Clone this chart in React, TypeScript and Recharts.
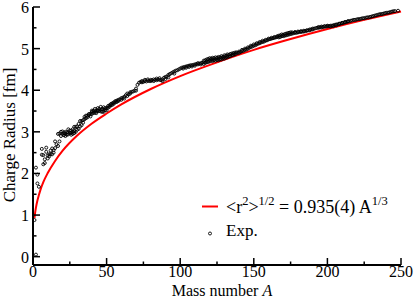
import { ComposedChart, Line, Scatter, XAxis, YAxis } from "recharts";

// fit curve <r^2>^1/2 = 0.935 A^1/3
const fitMass = [1, 1.5, 2, 3, 4, 5, 7, 10, 15, 20, 30, 40, 50, 60, 80, 100, 125, 150, 175, 200, 225, 250];
const fitRadius = [0.935, 1.07, 1.18, 1.35, 1.48, 1.6, 1.79, 2.01, 2.3, 2.54, 2.91, 3.2, 3.44, 3.66, 4.03, 4.34, 4.67, 4.97, 5.23, 5.47, 5.69, 5.89];

// experimental charge radii [A, r], read from the open circles
const expLight: [number, number][] = [
  [1, 0.88], [2, 0.05], [2, 2.14], [3, 1.76], [3, 1.97], [4, 1.68], [6, 2.59], [6, 2.45],
  [7, 2.44], [7, 2.22], [8, 2.34], [8, 2.25], [9, 2.52], [9, 2.62], [10, 2.43], [10, 2.36],
  [11, 2.46], [11, 2.41], [12, 2.47], [12, 2.55], [13, 2.46], [13, 2.6], [14, 2.5], [14, 2.56],
  [15, 2.61], [15, 2.77], [16, 2.7], [17, 2.66], [17, 2.95], [18, 2.77], [18, 2.96], [19, 2.9],
  [19, 3.0], [20, 3.01], [20, 2.95], [21, 2.97], [21, 2.92], [22, 2.95], [22, 2.9], [22, 3.0],
  [23, 2.99], [23, 2.93], [24, 3.06], [24, 2.98], [24, 2.94], [25, 3.03], [25, 2.97], [26, 3.03],
  [26, 2.98], [26, 2.93], [27, 3.06], [27, 3.0], [27, 2.95], [28, 3.12], [28, 3.02], [28, 2.97],
  [29, 3.12], [29, 3.0], [30, 3.13], [30, 3.05], [31, 3.07], [31, 3.19], [32, 3.26], [32, 3.13],
  [33, 3.26], [33, 3.16], [34, 3.28], [34, 3.22], [35, 3.36], [35, 3.3], [36, 3.39], [36, 3.33],
  [37, 3.39], [37, 3.35], [38, 3.4], [38, 3.43], [39, 3.43], [39, 3.37],
];

const expMedium: [number, number][] = [
  [40, 3.48], [40, 3.43], [40, 3.51], [41, 3.45], [41, 3.5], [42, 3.51], [42, 3.46], [42, 3.55],
  [43, 3.49], [43, 3.45], [44, 3.52], [44, 3.5], [44, 3.57], [45, 3.5], [45, 3.55], [46, 3.49],
  [46, 3.53], [46, 3.6], [47, 3.48], [47, 3.55], [48, 3.48], [48, 3.54], [48, 3.59], [49, 3.52],
  [49, 3.57], [50, 3.57], [50, 3.52], [51, 3.58], [51, 3.62], [52, 3.64], [52, 3.6], [53, 3.64],
  [53, 3.67], [54, 3.69], [54, 3.65], [55, 3.71], [55, 3.68], [56, 3.74], [56, 3.71], [57, 3.75],
  [57, 3.72], [58, 3.77], [58, 3.74], [59, 3.78], [60, 3.81], [60, 3.77], [61, 3.82], [62, 3.84],
  [62, 3.8], [63, 3.88], [64, 3.86], [64, 3.92], [65, 3.9], [66, 3.95], [66, 3.92], [67, 3.96],
  [68, 3.97], [69, 3.99], [70, 4.04], [70, 3.99], [71, 4.13], [72, 4.18], [73, 4.2], [74, 4.22],
  [74, 4.19], [75, 4.2], [76, 4.22], [76, 4.25], [77, 4.21], [78, 4.23], [78, 4.26], [79, 4.22],
  [80, 4.25], [80, 4.22], [81, 4.24], [82, 4.26], [82, 4.22], [83, 4.25], [84, 4.28], [84, 4.24],
  [85, 4.26], [86, 4.25], [86, 4.29], [87, 4.24], [88, 4.26], [88, 4.22], [89, 4.3], [90, 4.27],
  [90, 4.32], [91, 4.33], [92, 4.37], [92, 4.31], [93, 4.39], [94, 4.41], [95, 4.43], [96, 4.45],
  [96, 4.4], [97, 4.47], [98, 4.48], [99, 4.5], [100, 4.52],
];

const expHeavy: [number, number][] = [
  [101, 4.54], [102, 4.55], [102, 4.52], [103, 4.56], [104, 4.57], [104, 4.54], [105, 4.58], [106, 4.59],
  [106, 4.56], [107, 4.6], [108, 4.6], [108, 4.57], [109, 4.61], [110, 4.62], [110, 4.59], [111, 4.63],
  [112, 4.62], [112, 4.65], [113, 4.64], [114, 4.65], [114, 4.62], [115, 4.66], [116, 4.67], [116, 4.63],
  [116, 4.71], [117, 4.66], [117, 4.72], [118, 4.67], [118, 4.7], [118, 4.74], [119, 4.68], [119, 4.75],
  [120, 4.69], [120, 4.73], [120, 4.77], [121, 4.71], [121, 4.76], [122, 4.7], [122, 4.74], [122, 4.78],
  [123, 4.72], [123, 4.77], [124, 4.71], [124, 4.75], [124, 4.79], [125, 4.73], [125, 4.78], [126, 4.72],
  [126, 4.76], [126, 4.8], [127, 4.74], [127, 4.79], [128, 4.74], [128, 4.78], [128, 4.82], [129, 4.76],
  [129, 4.8], [130, 4.76], [130, 4.8], [130, 4.84], [131, 4.78], [131, 4.83], [132, 4.79], [132, 4.82],
  [132, 4.86], [133, 4.81], [133, 4.85], [134, 4.82], [134, 4.87], [135, 4.84], [135, 4.88], [136, 4.85],
  [136, 4.89], [137, 4.86], [137, 4.9], [138, 4.88], [138, 4.91], [139, 4.9], [140, 4.9], [140, 4.93],
  [141, 4.92], [142, 4.94], [142, 4.97], [143, 4.95], [144, 4.97], [144, 5.0], [145, 4.98], [146, 5.0],
  [146, 5.03], [147, 5.02], [148, 5.04], [148, 5.07], [149, 5.05], [150, 5.07], [150, 5.1], [151, 5.08],
  [152, 5.1], [152, 5.13], [153, 5.12], [154, 5.13], [154, 5.16], [155, 5.15], [156, 5.16], [156, 5.19],
  [157, 5.17], [158, 5.19], [158, 5.21], [159, 5.2], [160, 5.22], [160, 5.24], [161, 5.23], [162, 5.24],
  [162, 5.26], [163, 5.25], [164, 5.26], [164, 5.28], [165, 5.27], [166, 5.28], [166, 5.3], [167, 5.27],
  [167, 5.31], [168, 5.28], [168, 5.32], [169, 5.3], [169, 5.34], [170, 5.3], [170, 5.33], [171, 5.31],
  [171, 5.35], [172, 5.32], [172, 5.36], [173, 5.33], [173, 5.37], [174, 5.34], [174, 5.38], [175, 5.35],
  [175, 5.39], [176, 5.36], [176, 5.39], [177, 5.37], [178, 5.38], [178, 5.4], [179, 5.38], [180, 5.39],
  [180, 5.41], [181, 5.4], [182, 5.4], [182, 5.42], [183, 5.41], [184, 5.41], [184, 5.43], [185, 5.42],
  [186, 5.43], [186, 5.44], [187, 5.44], [188, 5.44], [188, 5.46], [189, 5.46], [190, 5.46], [190, 5.48],
  [191, 5.48], [192, 5.49], [193, 5.5], [194, 5.5], [194, 5.52], [195, 5.51], [196, 5.51], [196, 5.53],
  [197, 5.52], [198, 5.53], [198, 5.54], [199, 5.53], [200, 5.54], [200, 5.55], [201, 5.54], [202, 5.55],
  [202, 5.53], [203, 5.55], [204, 5.56], [204, 5.54], [205, 5.57], [206, 5.56], [206, 5.58], [207, 5.58],
  [208, 5.59], [208, 5.6], [209, 5.6], [210, 5.61], [210, 5.62], [211, 5.62], [212, 5.63], [212, 5.64],
  [213, 5.64], [214, 5.65], [214, 5.66], [215, 5.66], [216, 5.67], [217, 5.68], [218, 5.69], [219, 5.69],
  [220, 5.7], [221, 5.71], [222, 5.71], [223, 5.72], [224, 5.73], [225, 5.73], [226, 5.74], [227, 5.75],
  [228, 5.75], [229, 5.76], [230, 5.77], [231, 5.78], [232, 5.79], [233, 5.8], [234, 5.81], [235, 5.82],
  [236, 5.83], [237, 5.83], [238, 5.84], [239, 5.85], [240, 5.86], [241, 5.86], [242, 5.87], [243, 5.88],
  [244, 5.89], [245, 5.9], [246, 5.9], [248, 5.91],
];

const xTicks = [0, 25, 50, 75, 100, 125, 150, 175, 200, 225, 250];
const yTicks = [0, 0.5, 1, 1.5, 2, 2.5, 3, 3.5, 4, 4.5, 5, 5.5, 6];

const fitData = fitMass.map((A, i) => ({ A, r: fitRadius[i] }));
const expData = [...expLight, ...expMedium, ...expHeavy].map(([A, r]) => ({ A, r }));

const FONT = '"Liberation Serif", "Times New Roman", serif';
const AXIS = { stroke: "#000", strokeWidth: 2 };
const txt = { fontFamily: FONT };

// inward ticks, major every 50 / 1.0 with labels
const BottomTick = ({ x, y, payload }: any) => {
  const major = payload.value % 50 === 0;
  return (
    <g>
      <line x1={x} y1={y} x2={x} y2={y - (major ? 7 : 3.5)} stroke="#000" strokeWidth={1.5} />
      {major && (
        <text x={x} y={y + 12} textAnchor="middle" fontSize={16} style={txt} fill="#000">
          {payload.value}
        </text>
      )}
    </g>
  );
};

const TopTick = ({ x, y, payload }: any) => {
  const major = payload.value % 50 === 0;
  return <line x1={x} y1={y} x2={x} y2={y + (major ? 7 : 3.5)} stroke="#000" strokeWidth={1.5} />;
};

const LeftTick = ({ x, y, payload }: any) => {
  const major = Number.isInteger(payload.value);
  return (
    <g>
      <line x1={x} y1={y} x2={x + (major ? 7 : 3.5)} y2={y} stroke="#000" strokeWidth={1.5} />
      {major && (
        <text x={x - 4} y={y + 6} textAnchor="end" fontSize={16} style={txt} fill="#000">
          {payload.value}
        </text>
      )}
    </g>
  );
};

const RightTick = ({ x, y, payload }: any) => {
  const major = Number.isInteger(payload.value);
  return <line x1={x} y1={y} x2={x - (major ? 7 : 3.5)} y2={y} stroke="#000" strokeWidth={1.5} />;
};

const OpenCircle = ({ cx, cy }: any) => (
  <circle cx={cx} cy={cy} r={1.5} fill="none" stroke="#000" strokeWidth={0.9} />
);

const XTitle = ({ viewBox }: any) => (
  <text
    x={viewBox.x + viewBox.width / 2 + 5}
    y={viewBox.y + viewBox.height - 3}
    textAnchor="middle"
    fontSize={16}
    style={txt}
    fill="#000"
  >
    Mass number <tspan fontStyle="italic">A</tspan>
  </text>
);

const YTitle = ({ viewBox }: any) => {
  const cx = 15;
  const cy = viewBox.y + viewBox.height / 2 - 1;
  return (
    <text
      x={cx}
      y={cy}
      transform={`rotate(-90, ${cx}, ${cy})`}
      textAnchor="middle"
      fontSize={17}
      style={txt}
      fill="#000"
    >
      Charge Radius [fm]
    </text>
  );
};

const sup = { fontSize: 12.5, position: "relative" as const, top: -8 };

export default function App() {
  return (
    <div style={{ position: "absolute", left: 0, top: 0, width: 415, height: 299, background: "#fff", fontFamily: FONT }}>
      <ComposedChart width={415} height={299} margin={{ top: 7, right: 14, bottom: 0, left: 0 }}>
        <XAxis
          dataKey="A"
          type="number"
          domain={[0, 250]}
          ticks={xTicks}
          interval={0}
          height={34}
          tickSize={0}
          tickMargin={0}
          tickLine={false}
          axisLine={AXIS}
          tick={<BottomTick />}
          label={XTitle}
        />
        <XAxis
          xAxisId="top"
          orientation="top"
          type="number"
          domain={[0, 250]}
          allowDataOverflow
          ticks={xTicks}
          interval={0}
          height={0}
          tickSize={0}
          tickMargin={0}
          tickLine={false}
          axisLine={AXIS}
          tick={<TopTick />}
        />
        <YAxis
          dataKey="r"
          type="number"
          domain={[-0.2, 6]}
          ticks={yTicks}
          interval={0}
          width={33}
          tickSize={0}
          tickMargin={0}
          tickLine={false}
          axisLine={AXIS}
          tick={<LeftTick />}
          label={YTitle}
        />
        <YAxis
          yAxisId="right"
          orientation="right"
          type="number"
          domain={[-0.2, 6]}
          allowDataOverflow
          ticks={yTicks}
          interval={0}
          width={0}
          tickSize={0}
          tickMargin={0}
          tickLine={false}
          axisLine={AXIS}
          tick={<RightTick />}
        />
        <Line
          data={fitData}
          dataKey="r"
          type="monotone"
          stroke="#ff0000"
          strokeWidth={2}
          dot={false}
          isAnimationActive={false}
        />
        <Scatter data={expData} dataKey="r" shape={<OpenCircle />} isAnimationActive={false} />
      </ComposedChart>

      {/* legend */}
      <div style={{ position: "absolute", left: 0, top: 0, color: "#000", pointerEvents: "none" }}>
        <svg width={415} height={299} style={{ position: "absolute", left: 0, top: 0 }}>
          <line x1={202} y1={206.5} x2={218} y2={206.5} stroke="#ff0000" strokeWidth={2} />
          <circle cx={210} cy={233.5} r={1.5} fill="none" stroke="#000" strokeWidth={0.9} />
        </svg>
        <div style={{ position: "absolute", left: 226, top: 197.8, fontSize: 18, lineHeight: "18px", whiteSpace: "nowrap" }}>
          &lt;r<span style={sup}>2</span>&gt;<span style={sup}>1/2</span> = 0.935(4) A<span style={sup}>1/3</span>
        </div>
        <div style={{ position: "absolute", left: 226, top: 222.3, fontSize: 17, lineHeight: "17px", whiteSpace: "nowrap" }}>
          Exp.
        </div>
      </div>
    </div>
  );
}
